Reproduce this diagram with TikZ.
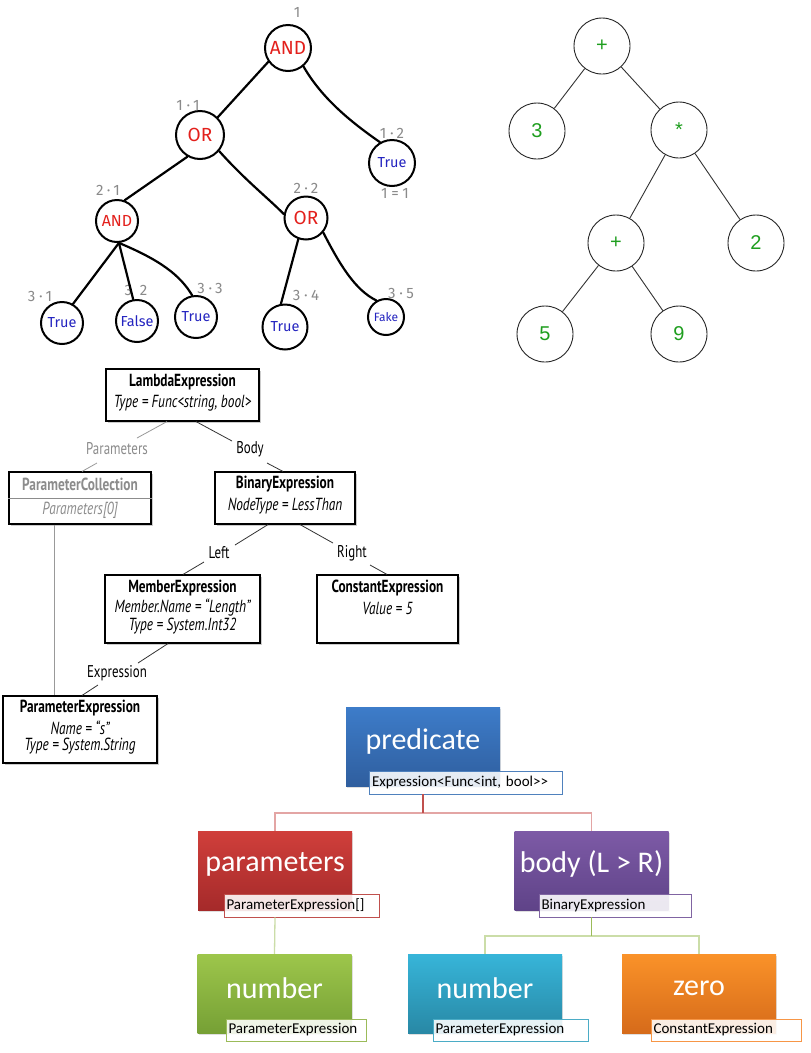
\documentclass[tikz,border=0pt]{standalone}
\usepackage{fontspec}
\setmainfont{Liberation Sans}
\newfontfamily\calib{Carlito}
\newfontfamily\condf[FakeStretch=0.76]{PT Sans}
\newfontfamily\hand{Fira Sans}
\newfontfamily\handsp[LetterSpace=25]{Fira Sans}
\usetikzlibrary{calc,shadows}
\definecolor{hred}{HTML}{E3201C}
\definecolor{hblue}{HTML}{2424C0}
\definecolor{egreen}{HTML}{1E9E1E}
\definecolor{lblgray}{HTML}{8A8A8A}
\definecolor{sred}{HTML}{C0504D}
\definecolor{sredl}{HTML}{E3A5A4}
\definecolor{sgreen}{HTML}{9BBB59}
\definecolor{sgreenl}{HTML}{CBDDA8}
\definecolor{sblueb}{HTML}{4F81BD}
\definecolor{spurp}{HTML}{8064A2}
\definecolor{scyan}{HTML}{4BACC6}
\definecolor{sorange}{HTML}{F79646}
\definecolor{predT}{HTML}{3D7CC9}
\definecolor{predB}{HTML}{2F5E9E}
\definecolor{parT}{HTML}{D03F3B}
\definecolor{parB}{HTML}{A52A2A}
\definecolor{bodT}{HTML}{7D5AA6}
\definecolor{bodB}{HTML}{5F4388}
\definecolor{gnT}{HTML}{9DC64B}
\definecolor{gnB}{HTML}{76A035}
\definecolor{cyT}{HTML}{37B5D9}
\definecolor{cyB}{HTML}{2888A5}
\definecolor{orT}{HTML}{FA9229}
\definecolor{orB}{HTML}{D66B1A}
\begin{document}
\begin{tikzpicture}[x=1pt,y=-1pt,
  hc/.style={circle,draw=black,line width=2pt,inner sep=0pt,fill=white},
  hop/.style={hc,text=hred,font=\hand\fontsize{19}{19}\selectfont},
  hval/.style={hc,text=hblue,font=\hand\fontsize{14.5}{14.5}\selectfont},
  hlbl/.style={text=lblgray,font=\handsp\fontsize{15}{15}\selectfont,inner sep=0pt},
  hedge/.style={line width=2.2pt,line cap=round},
  ec/.style={circle,draw=black!85,line width=0.9pt,minimum size=56pt,inner sep=0pt,text=egreen,font=\fontsize{20}{20}\selectfont},
  eedge/.style={draw=black!80,line width=0.9pt},
  ebox/.style={draw=black,line width=1.1pt,fill=white,inner sep=0pt,drop shadow={shadow xshift=1.8pt,shadow yshift=-1.8pt,opacity=0.4}},
  etb/.style={font=\condf\bfseries\fontsize{17.5}{17.5}\selectfont,inner sep=0pt},
  eti/.style={font=\condf\itshape\fontsize{17.5}{17.5}\selectfont,inner sep=0pt},
  elbl/.style={font=\condf\fontsize{17}{17}\selectfont,inner sep=0pt},
  econn/.style={draw=black!80,line width=0.8pt},
  gconn/.style={draw=black!40,line width=0.8pt},
  sbox/.style={inner sep=0pt,minimum width=154pt,minimum height=79pt,text=white,font=\calib\fontsize{30}{30}\selectfont,drop shadow={shadow xshift=1.2pt,shadow yshift=-1.5pt,opacity=0.25}},
  stxt/.style={text=white,font=\calib\fontsize{30}{30}\selectfont,inner sep=0pt},
  slbl/.style={draw=#1,line width=0.9pt,fill=white,fill opacity=0.88,text opacity=1,inner xsep=2.5pt,inner ysep=0pt,minimum height=23pt,align=left,font=\calib\fontsize{15}{15}\selectfont,anchor=center},
  stem/.style={draw=#1,line width=1.3pt},
]
\useasboundingbox[fill=white] (0,0) rectangle (811,1053);

% ---------------- hand-drawn tree ----------------
\node[hop,minimum size=46pt] (r) at (288,48) {AND};
\node[hop,minimum size=48pt] (o11) at (200,135) {OR};
\node[hval,minimum size=46pt] (t12) at (392,163) {True};
\node[hop,minimum size=42pt,font=\hand\fontsize{16}{16}\selectfont] (a21) at (117,221) {AND};
\node[hop,minimum size=43pt] (o22) at (306,218) {OR};
\node[hval,minimum size=42pt] (t31) at (62,323) {True};
\node[hval,minimum size=42pt] (f32) at (137,321) {False};
\node[hval,minimum size=42pt] (t33) at (196,317) {True};
\node[hval,minimum size=45pt] (t34) at (285,327) {True};
\node[hval,minimum size=36pt,font=\hand\fontsize{12}{12}\selectfont] (f35) at (386,317) {Fake};

\node[hlbl] (l1) at (297,12) {1};
\node[hlbl] (l11) at (188,105) {1·1};
\node[hlbl] (l12) at (392,133) {1·2};
\node[hlbl] (l12b) at (395,193) {1=1};
\node[hlbl] (l21) at (108,190) {2·1};
\node[hlbl] (l22) at (306,188) {2·2};
\node[hlbl] (l31) at (40,296) {3·1};
\node[hlbl] (l32) at (136,290) {3 2};
\node[hlbl] (l33) at (210,288) {3·3};
\node[hlbl] (l34) at (306,295) {3·4};
\node[hlbl] (l35) at (401,293) {3·5};

\draw[hedge] (r.215) -- (o11.45);
\draw[hedge] (r.-50) .. controls (320,95) and (345,118) .. (t12.120);
\draw[hedge] (o11.240) -- (a21.70);
\draw[hedge] (o11.-40) .. controls (245,180) and (268,198) .. (o22.170);
\draw[hedge] (a21.-85) -- (t31.60);
\draw[hedge] (a21.-85) -- (f32.100);
\draw[hedge] (a21.-85) .. controls (160,260) and (180,275) .. (t33.100);
\draw[hedge] (o22.-110) -- (t34.100);
\draw[hedge] (o22.-40) .. controls (340,265) and (355,290) .. (f35.120);

% ---------------- expression tree ----------------
\node[ec] (p1) at (602,46) {+};
\node[ec] (n3) at (537,131) {3};
\node[ec] (m1) at (679,130) {*};
\node[ec] (p2) at (616,243) {+};
\node[ec] (n2) at (756,243) {2};
\node[ec] (n5) at (545,334) {5};
\node[ec] (n9) at (679,334) {9};
\draw[eedge] (p1) -- (n3);
\draw[eedge] (p1) -- (m1);
\draw[eedge] (m1) -- (p2);
\draw[eedge] (m1) -- (n2);
\draw[eedge] (p2) -- (n5);
\draw[eedge] (p2) -- (n9);

% ---------------- LINQ expression tree ----------------
\node[ebox,minimum width=153pt,minimum height=52pt] (lam) at (182.5,395) {};
\node[ebox,minimum width=142pt,minimum height=52pt] (pc) at (80,498) {};
\node[ebox,minimum width=140pt,minimum height=52pt] (bin) at (285,498) {};
\node[ebox,minimum width=155pt,minimum height=68pt] (mem) at (182.5,609) {};
\node[ebox,minimum width=141pt,minimum height=68pt] (con) at (387.5,609) {};
\node[ebox,minimum width=154pt,minimum height=67pt] (pe) at (80,729.5) {};
\draw[draw=black!45,line width=0.8pt] (pc.west) -- (pc.east);

\node[etb] (lamt1) at (182.5,382) {LambdaExpression};
\node[eti] (lamt2) at (182.5,403) {Type = Func<string, bool>};
\node[etb,text=black!45] (pct1) at (80,484) {ParameterCollection};
\node[eti,text=black!45] (pct2) at (80,510) {Parameters[0]};
\node[etb] (bint1) at (285,484) {BinaryExpression};
\node[eti] (bint2) at (285,506) {NodeType = LessThan};
\node[etb] (memt1) at (182.5,588) {MemberExpression};
\node[eti] (memt2) at (182.5,608) {Member.Name = “Length”};
\node[eti] (memt3) at (182.5,626) {Type = System.Int32};
\node[etb] (cont1) at (387.5,588) {ConstantExpression};
\node[eti] (cont2) at (387.5,608) {Value = 5};
\node[etb] (pet1) at (80,708) {ParameterExpression};
\node[eti] (pet2) at (80,728) {Name = “s”};
\node[eti] (pet3) at (80,746) {Type = System.String};

\node[elbl,text=black!45] (lp) at (117,449) {Parameters};
\node[elbl] (lb) at (250,449) {Body};
\node[elbl] (ll) at (219,553) {Left};
\node[elbl] (lr) at (352,553) {Right};
\node[elbl] (le) at (117,673) {Expression};

\draw[gconn] ($(lam.south)+(-15.5,0)$) -- ($(lp.center)+(20,-11)$);
\draw[gconn] ($(lp.center)+(-20,14)$) -- ($(pc.north)+(2,0)$);
\draw[econn] ($(lam.south)+(13.5,0)$) -- ($(lb.center)+(-18,-8)$);
\draw[econn] ($(lb.center)+(17,14)$) -- ($(bin.north)+(-2,0)$);
\draw[econn] ($(bin.south)+(-17,0)$) -- ($(ll.center)+(16,-8)$);
\draw[econn] ($(ll.center)+(-15,9)$) -- ($(mem.north)+(0.5,0)$);
\draw[econn] ($(bin.south)+(15,0)$) -- ($(lr.center)+(-19,-10)$);
\draw[econn] ($(lr.center)+(18,12)$) -- ($(con.north)+(-0.5,0)$);
\draw[econn] ($(mem.south)+(-14.5,0)$) -- ($(le.center)+(21,-10)$);
\draw[econn] ($(le.center)+(-19,12)$) -- ($(pe.north)+(2,0)$);
\draw[gconn] ($(pc.south)+(-26,0)$) -- ($(pe.north)+(-26,0)$);

% ---------------- SmartArt tree ----------------
\node[sbox,top color=predT,bottom color=predB] (pred) at (423,747) {};
\node[sbox,top color=parT,bottom color=parB] (par) at (275,870.5) {};
\node[sbox,top color=bodT,bottom color=bodB] (bod) at (591.5,870.5) {};
\node[sbox,top color=gnT,bottom color=gnB] (num1) at (274.5,993.5) {};
\node[sbox,top color=cyT,bottom color=cyB] (num2) at (485,993.5) {};
\node[sbox,top color=orT,bottom color=orB] (zero) at (699,993.5) {};

\node[stxt] (predt) at (423,741) {predicate};
\node[stxt] (part) at (275,864) {parameters};
\node[stxt] (bodt) at (591.5,864) {body (L > R)};
\node[stxt] (num1t) at (274.5,988) {number};
\node[stxt] (num2t) at (485,988) {number};
\node[stxt] (zerot) at (699,988) {zero};

\node[slbl=sblueb,text width=188pt] (predl) at (466,782.5) {Expression<Func<int, bool>>};
\node[slbl=sred,text width=150pt] (parl) at (301.5,905.5) {ParameterExpression[]};
\node[slbl=spurp,text width=147pt] (bodl) at (615,905.5) {BinaryExpression};
\node[slbl=sgreen,text width=135pt,minimum height=22pt] (num1l) at (296,1030) {ParameterExpression};
\node[slbl=scyan,text width=150pt,minimum height=22pt] (num2l) at (510.5,1030) {ParameterExpression};
\node[slbl=sorange,text width=145pt,minimum height=22pt] (zerol) at (726,1030) {ConstantExpression};

\draw[stem=sredl] (pred.south |- 0,813) -| (par.north);
\draw[stem=sredl] (pred.south |- 0,813) -| (bod.north);
\draw[stem=sred] (pred.south |- predl.south) -- (pred.south |- 0,813);
\draw[stem=sgreenl] (par.south |- parl.south) -- (num1.north);
\draw[stem=sgreenl] (bod.south |- 0,936) -| (num2.north);
\draw[stem=sgreenl] (bod.south |- 0,936) -| (zero.north);
\draw[stem=sgreen] (bod.south |- bodl.south) -- (bod.south |- 0,936);
\end{tikzpicture}
\end{document}
